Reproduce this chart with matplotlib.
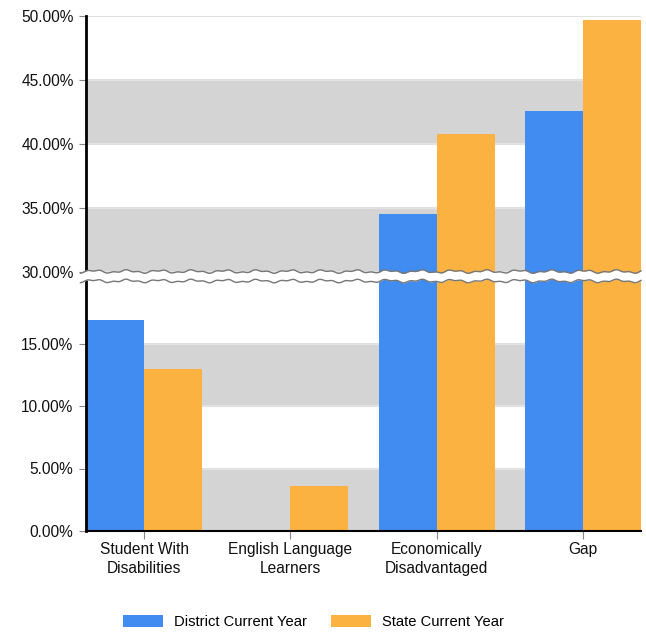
import matplotlib.pyplot as plt
import numpy as np

plt.rcParams.update({
    'font.family': ['Liberation Sans', 'DejaVu Sans'],
    'font.size': 11.2,
})

# datos (%)
categorias = ['Student With\nDisabilities', 'English Language\nLearners',
              'Economically\nDisadvantaged', 'Gap']
distrito = [16.9, 0.0, 34.5, 42.6]
estado = [13.0, 3.6, 40.8, 49.7]
ticks_y = [0, 5, 10, 15, 30, 35, 40, 45, 50]
bandas = [(0, 5), (10, 15), (30, 35), (40, 45)]

azul = '#418cf0'
naranja = '#fbb240'

# eje y partido: 0-20 y 30-50, el tramo 20-30 queda comprimido
src = [0, 20, 30, 50]
dst = [0, 250, 259.5, 515]


def fwd(v):
    return np.interp(v, src, dst)


def inv(h):
    return np.interp(h, dst, src)


fig = plt.figure(figsize=(6.46, 6.33), dpi=100)
ax = fig.add_axes([86 / 646, 102 / 633, 555 / 646, 515 / 633])
ax.set_yscale('function', functions=(fwd, inv))

for lo, hi in bandas:
    ax.axhspan(lo, hi, color='#d4d4d4', lw=0, zorder=0)
for t in ticks_y:
    ax.axhline(t, color='#e2e2e2', lw=1.6, zorder=0.5)

x = np.arange(len(categorias))
w = 0.397
ax.bar(x - w / 2, distrito, w, color=azul, zorder=2, label='District Current Year')
ax.bar(x + w / 2, estado, w, color=naranja, zorder=2, label='State Current Year')

ax.set_xlim(-w, len(categorias) - 1 + w)
ax.set_ylim(0, 50)
ax.set_xticks(x)
ax.set_xticklabels(categorias, linespacing=1.35)
ax.set_yticks(ticks_y)
ax.set_yticklabels([f'{t:.2f}%' for t in ticks_y])
ax.yaxis.set_minor_locator(plt.NullLocator())

for s in ['top', 'right']:
    ax.spines[s].set_visible(False)
ax.spines['left'].set_linewidth(2)
ax.spines['bottom'].set_linewidth(1.5)
ax.tick_params(axis='y', length=5, color='#888888', pad=4, labelcolor='#111111')
ax.tick_params(axis='x', length=6, color='#888888', pad=2, labelcolor='#111111')

# corte ondulado del eje
xs = np.linspace(-0.01, 1.0, 500)
onda = 0.0022 * np.sin(xs * 2 * np.pi * 17) + 0.0014 * np.sin(xs * 2 * np.pi * 43 + 1.0)
sup = fwd(30) / 515 + onda
inf = fwd(20) / 515 + onda
ax.fill_between(xs, inf, sup, color='white', transform=ax.transAxes,
                zorder=5, clip_on=False, lw=0)
ax.plot(xs, sup, color='#777777', lw=1, transform=ax.transAxes, zorder=6, clip_on=False)
ax.plot(xs, inf, color='#777777', lw=1, transform=ax.transAxes, zorder=6, clip_on=False)

fig.legend(loc='center', bbox_to_anchor=(313.5 / 646, 1 - 622 / 633), ncol=2,
           frameon=False, handlelength=2.7, handleheight=0.95,
           columnspacing=1.6, handletextpad=0.75, fontsize=10.6)

plt.savefig('out.png', dpi=100)
